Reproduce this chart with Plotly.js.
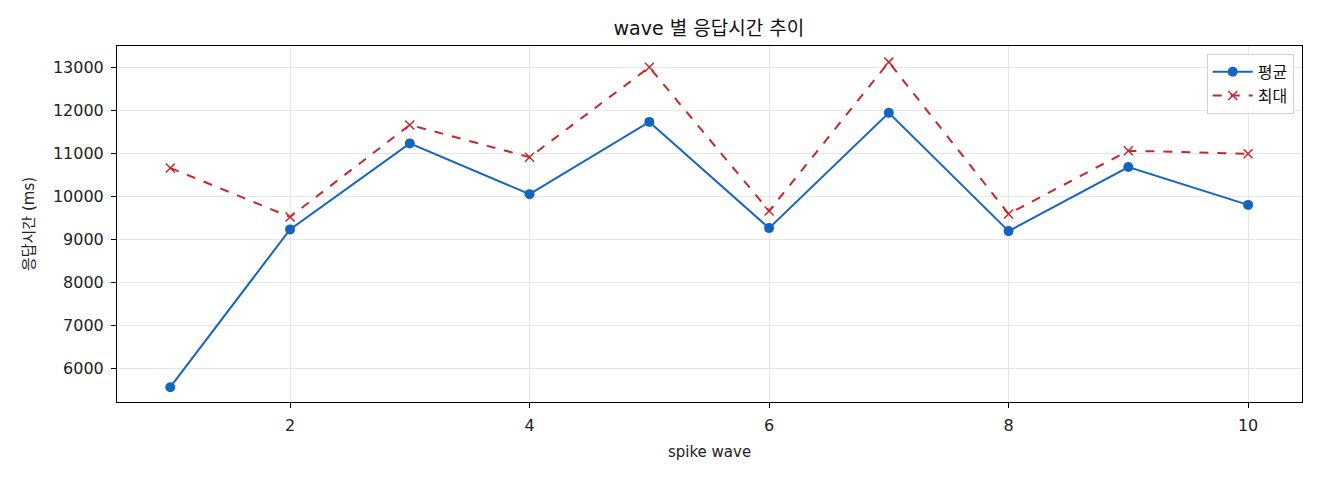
<!DOCTYPE html>
<html>
<head>
<meta charset="utf-8">
<script src="https://cdn.plot.ly/plotly-3.0.1.min.js"></script>
<style>
  html, body { margin: 0; padding: 0; background: #fff; }
  #chart { width: 1320px; height: 480px; }
</style>
</head>
<body>
<div id="chart"></div>
<script>
const waves = [1, 2, 3, 4, 5, 6, 7, 8, 9, 10];
const avgMs = [5560, 9230, 11230, 10050, 11730, 9260, 11940, 9190, 10680, 9800];
const maxMs = [10660, 9520, 11660, 10910, 13000, 9660, 13120, 9590, 11060, 10990];
const xTicks = [2, 4, 6, 8, 10];
const yTicks = [6000, 7000, 8000, 9000, 10000, 11000, 12000, 13000];

const font = '"DejaVu Sans", "Noto Sans CJK KR", sans-serif';

const traces = [
  { x: waves, y: avgMs, name: '평균', type: 'scatter', mode: 'lines+markers',
    line: { color: '#1565C0', width: 2 }, marker: { symbol: 'circle', size: 10, color: '#1565C0' } },
  { x: waves, y: maxMs, name: '최대', type: 'scatter', mode: 'lines+markers',
    line: { color: '#C62828', width: 2, dash: 'dash' },
    marker: { symbol: 'x-thin', size: 9, color: '#C62828', line: { color: '#C62828', width: 1.5 } } }
];

const axisBase = {
  showline: true, mirror: true, linecolor: '#000', linewidth: 1,
  ticks: 'outside', ticklen: 5, tickcolor: '#000', ticklabelstandoff: 4,
  showgrid: true, gridcolor: '#e6e6e6', gridwidth: 1, zeroline: false,
  tickfont: { family: font, size: 16, color: '#222' }
};

const layout = {
  width: 1320, height: 480,
  margin: { l: 117, r: 18, t: 46, b: 78 },
  paper_bgcolor: '#fff', plot_bgcolor: '#fff',
  font: { family: font, color: '#222' },
  title: { text: 'wave 별 응답시간 추이', x: 0.537, xanchor: 'center', y: 0.94, yanchor: 'middle',
    font: { family: font, size: 19, color: '#111' } },
  xaxis: Object.assign({}, axisBase, {
    range: [0.555, 10.45], tickvals: xTicks,
    title: { text: 'spike wave', font: { family: font, size: 15 }, standoff: 12 }
  }),
  yaxis: Object.assign({}, axisBase, {
    range: [5216, 13495], tickvals: yTicks, tickformat: 'd',
    title: { text: '응답시간 (ms)', font: { family: font, size: 15 }, standoff: 14 }
  }),
  legend: {
    x: 0.993, xanchor: 'right', y: 0.978, yanchor: 'top',
    bgcolor: 'rgba(255,255,255,0.85)', bordercolor: '#d0d0d0', borderwidth: 1,
    font: { family: font, size: 16, color: '#111' }, itemwidth: 40
  },
  showlegend: true
};

Plotly.newPlot('chart', traces, layout, { staticPlot: true });
</script>
</body>
</html>
